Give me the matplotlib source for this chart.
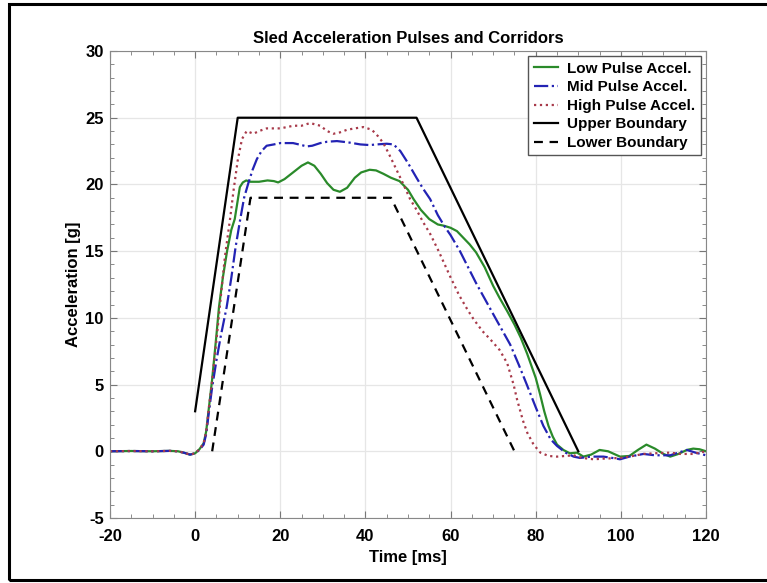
import numpy as np
import matplotlib
matplotlib.use('Agg')
import matplotlib.pyplot as plt
from matplotlib.patches import Rectangle
from matplotlib.ticker import MultipleLocator

# --- данні ---
low_t = [-20, -15, -10, -6, -4, -2.5, -1.2, 0, 1, 2, 2.6, 3.1, 3.5, 4, 5, 5.6, 6.5, 7.5, 8.5,
         9.3, 10, 10.5, 11.2, 12, 13, 15, 17, 18.5, 19.5, 21, 23, 25, 26.5, 28, 29.5, 31,
         32.5, 34, 35.7, 37.5, 39, 41, 42.5, 44.2, 46, 48, 50, 51.3, 53, 55, 57, 58.5, 60,
         61.5, 63, 64.5, 66, 68, 70, 71.5, 73.3, 75, 76.5, 78, 79, 80, 81, 82, 83, 84, 85,
         86.5, 88, 89.7, 91.2, 93, 95, 97, 99.8, 102, 104, 106, 108, 110, 111.6, 113.5,
         115.5, 117, 118.5, 120]
low_a = [0.0, 0.02, 0.0, 0.03, 0.0, -0.12, -0.25, -0.15, 0.15, 0.6, 1.5, 2.9, 4.0, 5.4, 8.7,
         10.8, 13.0, 15.0, 16.6, 17.4, 18.8, 19.8, 20.15, 20.3, 20.2, 20.2, 20.3, 20.25, 20.15,
         20.4, 20.9, 21.4, 21.65, 21.4, 20.8, 20.1, 19.6, 19.45, 19.75, 20.5, 20.9, 21.1,
         21.05, 20.8, 20.5, 20.25, 19.6, 18.9, 18.1, 17.4, 17.0, 16.9, 16.75, 16.5, 16.0,
         15.5, 14.9, 13.8, 12.4, 11.5, 10.5, 9.5, 8.5, 7.3, 6.4, 5.5, 4.3, 3.0, 1.9, 1.1,
         0.5, 0.1, -0.15, -0.1, -0.4, -0.25, 0.1, 0.0, -0.4, -0.35, 0.1, 0.5, 0.2, -0.2, -0.4,
         -0.2, 0.1, 0.2, 0.15, 0.0]

mid_t = [-20, -15, -10, -6, -4, -2.5, -1.2, 0, 1, 2, 2.6, 3.1, 3.5, 4, 5, 6, 7.4, 8.5, 9.5,
         10.6, 11.5, 12.5, 13.5, 14.5, 15.6, 16.8, 18.5, 20, 23, 25, 26.2, 27.5, 29.4, 31,
         33.3, 36, 38.8, 41, 42.7, 45, 46.6, 48.2, 50, 52, 53.5, 55.2, 57, 58.7, 60, 62.2,
         66, 70.5, 74, 76, 77.9, 80, 81.8, 83.5, 85, 87, 88.9, 90.4, 93, 95.9, 98, 99.8,
         102, 105.3, 108, 111.6, 113.5, 115.5, 117.5, 120]
mid_a = [0.0, 0.02, 0.0, 0.03, 0.0, -0.12, -0.25, -0.15, 0.1, 0.5, 1.3, 2.6, 3.6, 4.8, 6.8,
         8.6, 10.8, 13.0, 15.3, 17.4, 19.0, 20.1, 21.1, 21.9, 22.5, 22.9, 23.0, 23.1, 23.1,
         22.95, 22.85, 22.9, 23.1, 23.2, 23.25, 23.15, 23.0, 22.95, 23.0, 23.05, 23.0, 22.5,
         21.6, 20.5, 19.7, 18.9, 17.7, 16.8, 16.2, 15.0, 12.6, 10.0, 8.0, 6.5, 5.0, 3.3, 1.9,
         0.9, 0.4, -0.1, -0.4, -0.5, -0.4, -0.4, -0.5, -0.6, -0.4, -0.2, -0.3, -0.3, -0.1,
         0.1, -0.1, -0.3]

high_t = [-20, -15, -10, -6, -4, -2.5, -1.2, 0, 1, 2, 2.6, 3.1, 3.5, 4, 5, 6, 7, 8.2, 9, 10,
          11, 12.1, 13.7, 15, 16.8, 20, 23.1, 25, 27, 29.4, 31, 32.5, 34, 35.7, 37.5, 39.5,
          41.5, 43, 44.2, 45.5, 47.3, 48.5, 50.5, 52, 53.5, 55.2, 57.2, 59.9, 62, 64, 65.4,
          67.5, 69.3, 71.5, 73.3, 74.8, 75.6, 77, 78, 79.5, 81.1, 83, 85, 87, 88.9, 91, 93.6,
          96, 99.8, 102, 105.3, 108, 111.6, 114, 117, 120]
high_a = [0.0, 0.02, 0.0, 0.03, 0.0, -0.12, -0.25, -0.15, 0.15, 0.6, 1.5, 2.9, 4.0, 5.3, 8.3,
          11.5, 14.6, 17.4, 19.5, 21.8, 23.4, 24.0, 23.8, 24.0, 24.2, 24.2, 24.4, 24.4, 24.6,
          24.4, 24.0, 23.8, 23.9, 24.1, 24.2, 24.3, 24.1, 23.6, 23.1, 22.3, 21.1, 20.3, 18.9,
          18.1, 17.2, 16.3, 15.0, 13.1, 11.7, 10.6, 9.9, 9.0, 8.4, 7.6, 6.6, 5.0, 3.9, 2.3,
          1.4, 0.5, -0.1, -0.35, -0.4, -0.35, -0.3, -0.5, -0.6, -0.55, -0.5, -0.4, -0.2,
          -0.15, -0.1, -0.2, -0.2, 0.0]

upper_t = [0, 10, 52, 90]
upper_a = [3, 25, 25, 0]
lower_t = [4, 13, 46, 75]
lower_a = [0, 19, 19, 0]

# --- графік ---
plt.rcParams['font.family'] = ['Liberation Sans', 'DejaVu Sans']
plt.rcParams['font.weight'] = 'bold'
plt.rcParams['axes.unicode_minus'] = False

fig = plt.figure(figsize=(7.67, 5.83), dpi=100)
ax = fig.add_axes([0.1434, 0.1115, 0.7771, 0.801])

ax.plot(low_t, low_a, color='#2a8a2a', lw=1.6, label='Low Pulse Accel.')
ax.plot(mid_t, mid_a, color='#2323b4', lw=1.6, ls='-.', label='Mid Pulse Accel.')
ax.plot(high_t, high_a, color='#a83a4a', lw=1.6, ls=':', label='High Pulse Accel.')
ax.plot(upper_t, upper_a, color='black', lw=1.6, label='Upper Boundary')
ax.plot(lower_t, lower_a, color='black', lw=1.6, ls=(0, (4, 3)), label='Lower Boundary')

ax.set_xlim(-20, 120)
ax.set_ylim(-5, 30)
ax.xaxis.set_major_locator(MultipleLocator(20))
ax.xaxis.set_minor_locator(MultipleLocator(5))
ax.yaxis.set_major_locator(MultipleLocator(5))
ax.yaxis.set_minor_locator(MultipleLocator(1))
ax.tick_params(which='both', direction='in', top=True, right=True, colors='#777777',
               labelcolor='black', labelsize=12)
ax.tick_params(which='major', length=5)
ax.tick_params(which='minor', length=3)
ax.tick_params(axis='x', which='major', pad=8)
ax.tick_params(axis='y', which='major', pad=4.5)
for lbl in ax.get_xticklabels() + ax.get_yticklabels():
    lbl.set_fontweight('bold')
for s in ax.spines.values():
    s.set_color('#888888')
ax.grid(True, which='major', color='#e6e6e6', lw=0.9)
ax.set_axisbelow(True)

ax.set_title('Sled Acceleration Pulses and Corridors', fontsize=12, fontweight='bold', pad=6)
ax.set_xlabel('Time [ms]', fontsize=12, fontweight='bold', labelpad=4)
ax.set_ylabel('Acceleration [g]', fontsize=12, fontweight='bold', labelpad=3)

leg = ax.legend(loc='upper right', prop={'weight': 'bold', 'size': 11},
                handlelength=1.6, borderaxespad=0.35, labelspacing=0.3, fancybox=False,
                framealpha=1, borderpad=0.35, handletextpad=0.6)
leg.get_frame().set_edgecolor('#555555')
leg.get_frame().set_linewidth(1.0)

fig.patches.append(Rectangle((0.0117, 0.005), 1.1, 0.988, transform=fig.transFigure,
                             fill=False, edgecolor='black', lw=2.2))

plt.savefig('out.png', dpi=100)
